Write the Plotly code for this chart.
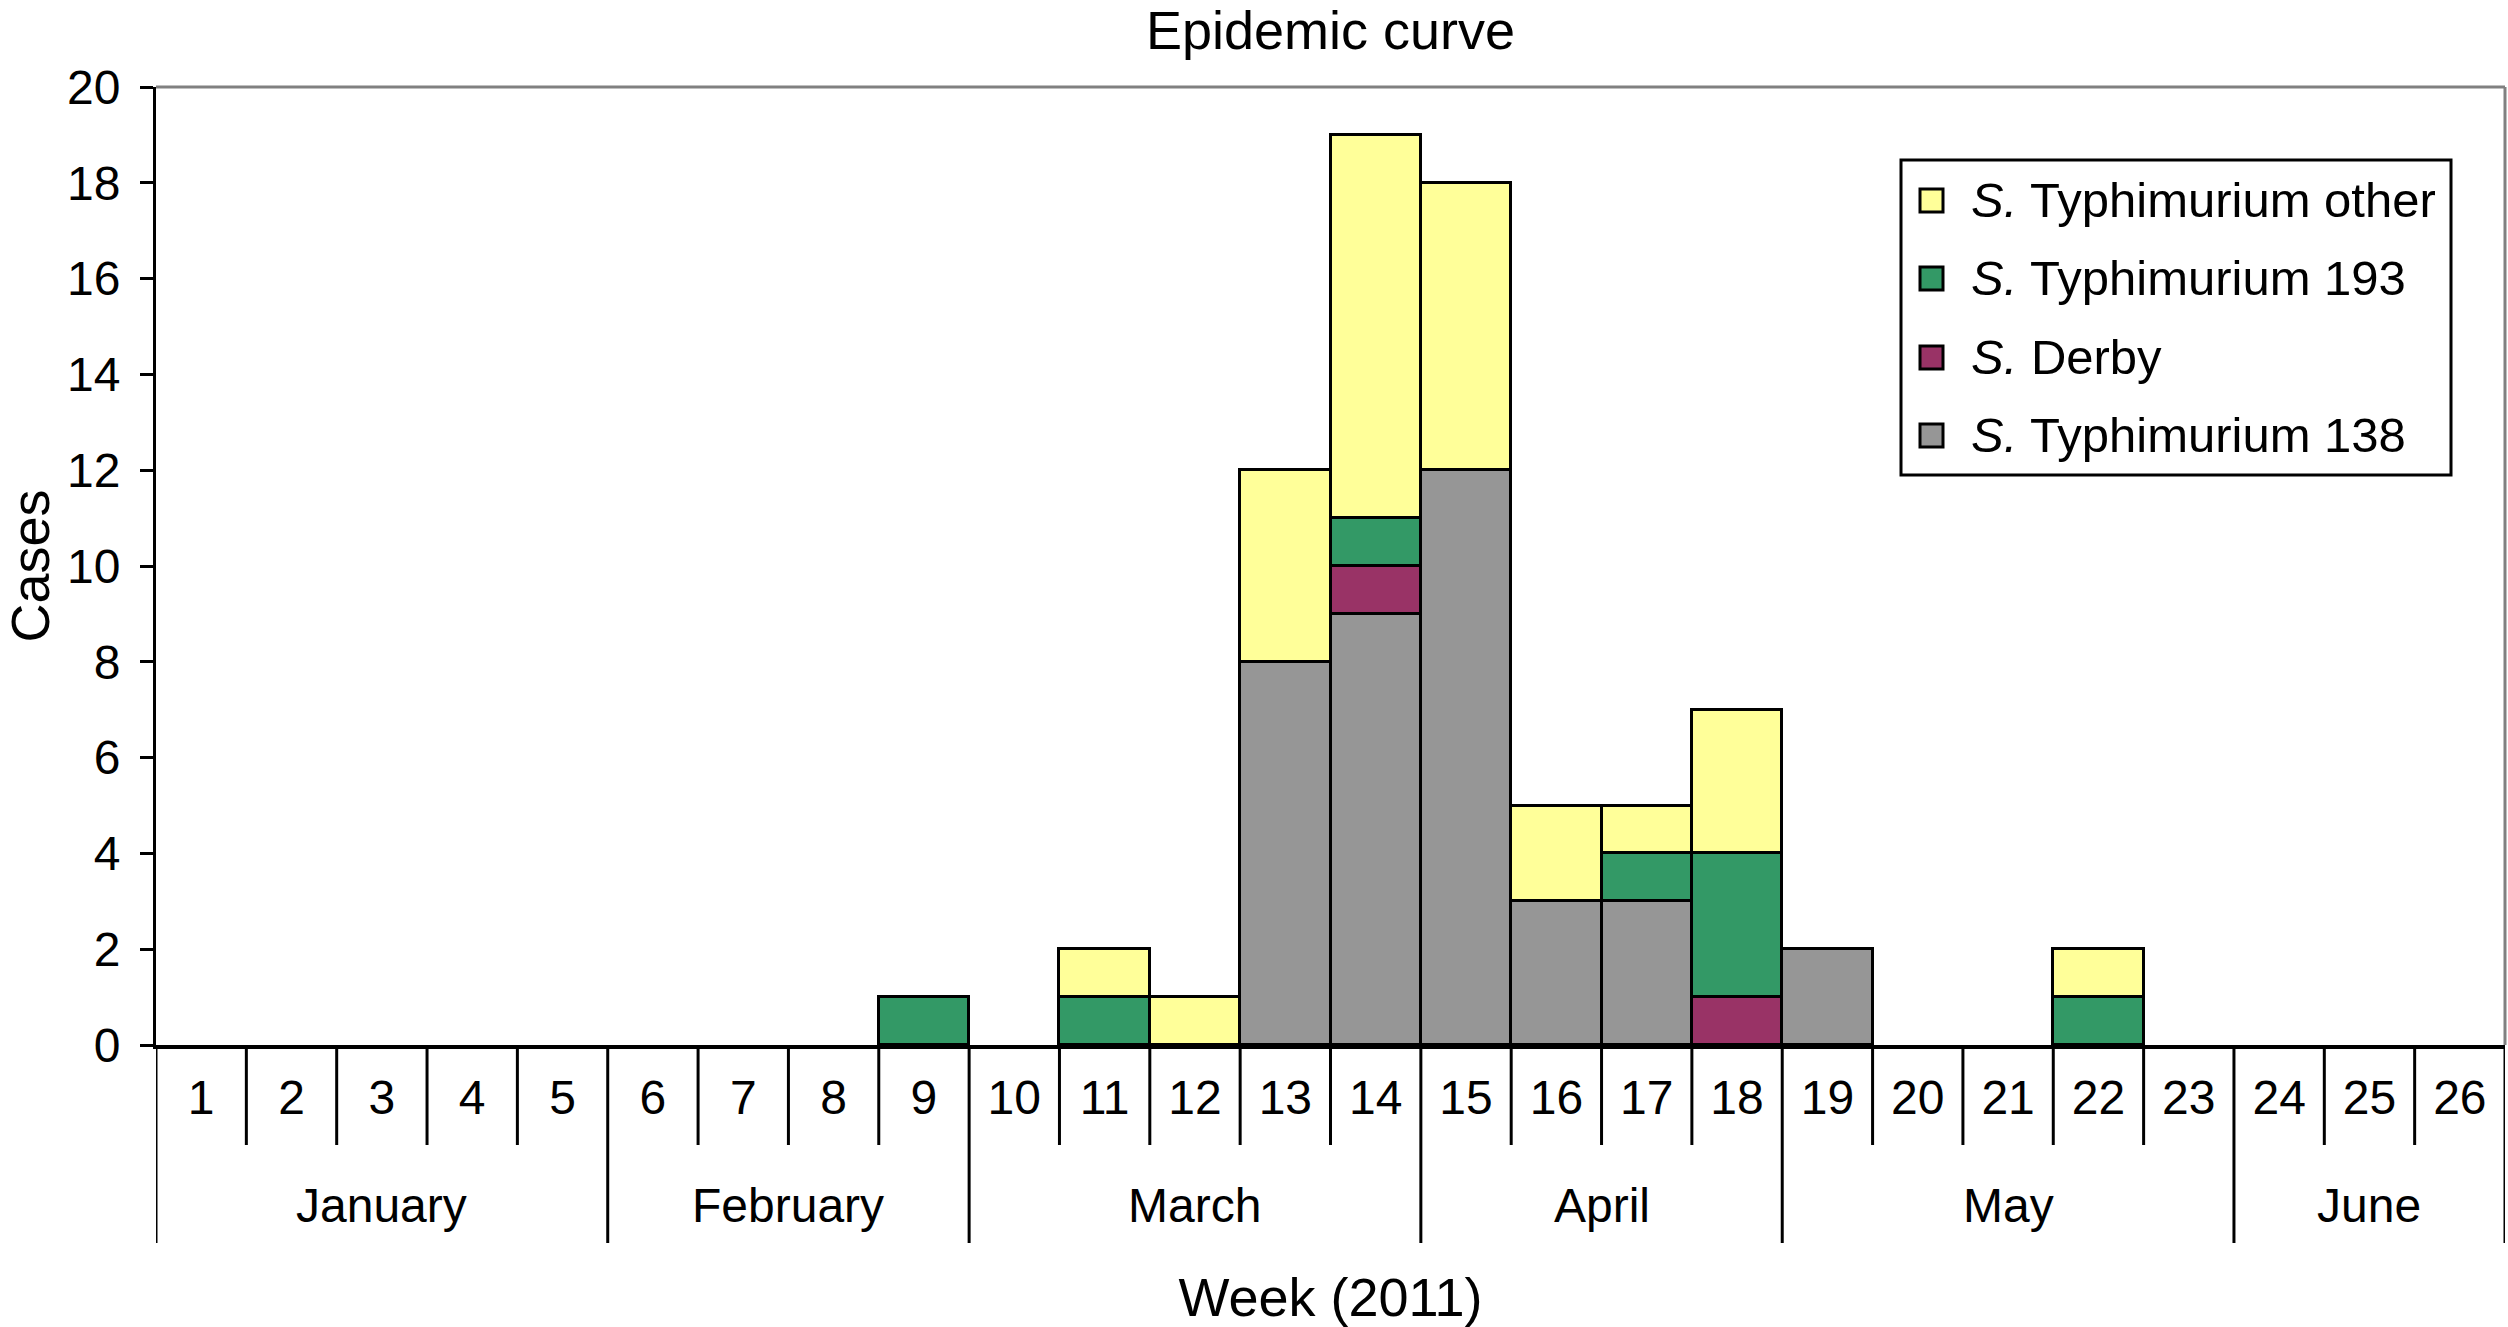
import plotly.graph_objects as go

# ---------------- data ----------------
weeks = list(range(1, 27))
week_labels = [str(w) for w in weeks]

series_names = ["S. Typhimurium 138", "S. Derby", "S. Typhimurium 193", "S. Typhimurium other"]
typhimurium_138 = [0, 0, 0, 0, 0, 0, 0, 0, 0, 0, 0, 0, 8, 9, 12, 3, 3, 0, 2, 0, 0, 0, 0, 0, 0, 0]
derby           = [0, 0, 0, 0, 0, 0, 0, 0, 0, 0, 0, 0, 0, 1, 0, 0, 0, 1, 0, 0, 0, 0, 0, 0, 0, 0]
typhimurium_193 = [0, 0, 0, 0, 0, 0, 0, 0, 1, 0, 1, 0, 0, 1, 0, 0, 1, 3, 0, 0, 0, 1, 0, 0, 0, 0]
typhimurium_oth = [0, 0, 0, 0, 0, 0, 0, 0, 0, 0, 1, 1, 4, 8, 6, 2, 1, 3, 0, 0, 0, 1, 0, 0, 0, 0]
series_values = [typhimurium_138, derby, typhimurium_193, typhimurium_oth]
series_colors = ["#969696", "#993366", "#339966", "#FFFF99"]

months = ["January", "February", "March", "April", "May", "June"]
month_first_week = [1, 6, 10, 15, 19, 24]
month_last_week = [5, 9, 14, 18, 23, 26]

y_ticks = list(range(0, 21, 2))

# ---------------- layout geometry (px) ----------------
W, H = 2508, 1327
L, R, T, B = 156, 3, 87, 282
PW, PH = W - L - R, H - T - B
FONT = "Liberation Sans, Arial, Helvetica, sans-serif"


def py(px_below_axis):
    """paper y for a pixel distance below the x axis."""
    return -px_below_axis / PH


def ppx(x_px):
    return (x_px - L) / PW


def ppy(y_px):
    return (H - B - y_px) / PH


fig = go.Figure()
for name, vals, col in zip(series_names, series_values, series_colors):
    fig.add_trace(go.Bar(
        x=weeks,
        y=[v if v else None for v in vals],
        name=name,
        width=1,
        marker=dict(color=col, line=dict(color="black", width=3.5)),
        showlegend=False,
    ))

shapes = []
month_bounds = [month_first_week[0] - 0.5] + [w + 0.5 for w in month_last_week]
for w in weeks[:-1]:
    b = w + 0.5
    if b in month_bounds:
        continue
    shapes.append(dict(type="line", xref="x", yref="paper", x0=b, x1=b,
                       y0=0, y1=py(100), line=dict(color="black", width=3)))
for b in month_bounds:
    shapes.append(dict(type="line", xref="x", yref="paper", x0=b, x1=b,
                       y0=0, y1=py(198), line=dict(color="black", width=3)))
# gray frame top and right
shapes.append(dict(type="line", xref="paper", yref="paper", x0=0, x1=1, y0=1, y1=1,
                   line=dict(color="#808080", width=3)))
shapes.append(dict(type="line", xref="paper", yref="paper", x0=1, x1=1, y0=0, y1=1,
                   line=dict(color="#808080", width=3)))

annotations = []
for m, a, b in zip(months, month_first_week, month_last_week):
    annotations.append(dict(x=(a + b) / 2, xref="x", y=py(160), yref="paper",
                            text=m, showarrow=False, yanchor="middle",
                            font=dict(size=48, color="black", family=FONT)))

# manual legend (top to bottom: other, 193, Derby, 138)
leg_x0, leg_x1, leg_y0, leg_y1 = 1901, 2451, 160, 475
shapes.append(dict(type="rect", xref="paper", yref="paper",
                   x0=ppx(leg_x0), x1=ppx(leg_x1), y0=ppy(leg_y0), y1=ppy(leg_y1),
                   line=dict(color="black", width=3), fillcolor="white", layer="above"))
row_y = [200, 278, 357, 435]
for i, (name, col) in enumerate(zip(series_names[::-1], series_colors[::-1])):
    cy = row_y[i]
    shapes.append(dict(type="rect", xref="paper", yref="paper",
                       x0=ppx(1920), x1=ppx(1943), y0=ppy(cy - 11), y1=ppy(cy + 12),
                       line=dict(color="black", width=3), fillcolor=col, layer="above"))
    label = "<i>S.</i>" + name[2:]
    annotations.append(dict(x=ppx(1969), xref="paper", y=ppy(cy), yref="paper",
                            text=label, showarrow=False, xanchor="left", yanchor="middle",
                            font=dict(size=49, color="black", family=FONT)))

fig.update_layout(
    width=W, height=H,
    margin=dict(l=L, r=R, t=T, b=B, autoexpand=False),
    paper_bgcolor="white", plot_bgcolor="white",
    font=dict(family=FONT, color="black", size=48),
    barmode="stack", bargap=0,
    title=dict(text="Epidemic curve", x=0.5, xref="paper", xanchor="center",
               y=1 - 30 / H, yref="container", yanchor="middle",
               font=dict(size=54, color="black", family=FONT)),
    xaxis=dict(range=[0.5, 26.5], tickmode="array", tickvals=weeks, ticktext=week_labels,
               ticks="", showgrid=False, zeroline=False, showline=True,
               linecolor="black", linewidth=4, ticklabelstandoff=7,
               tickfont=dict(size=48, color="black", family=FONT),
               title=dict(text="Week (2011)", standoff=163,
                          font=dict(size=54, color="black", family=FONT)),
               automargin=False),
    yaxis=dict(range=[0, 20], tickmode="array", tickvals=y_ticks,
               ticks="outside", ticklen=13, tickwidth=3, tickcolor="black",
               showgrid=False, zeroline=False, showline=True,
               linecolor="black", linewidth=3, ticklabelstandoff=10,
               tickfont=dict(size=48, color="black", family=FONT),
               title=dict(text="Cases", standoff=14,
                          font=dict(size=54, color="black", family=FONT)),
               automargin=False),
    shapes=shapes,
    annotations=annotations,
)

fig.write_html("out.html", config={"displayModeBar": False},
               post_script="document.body.style.margin='0';")
